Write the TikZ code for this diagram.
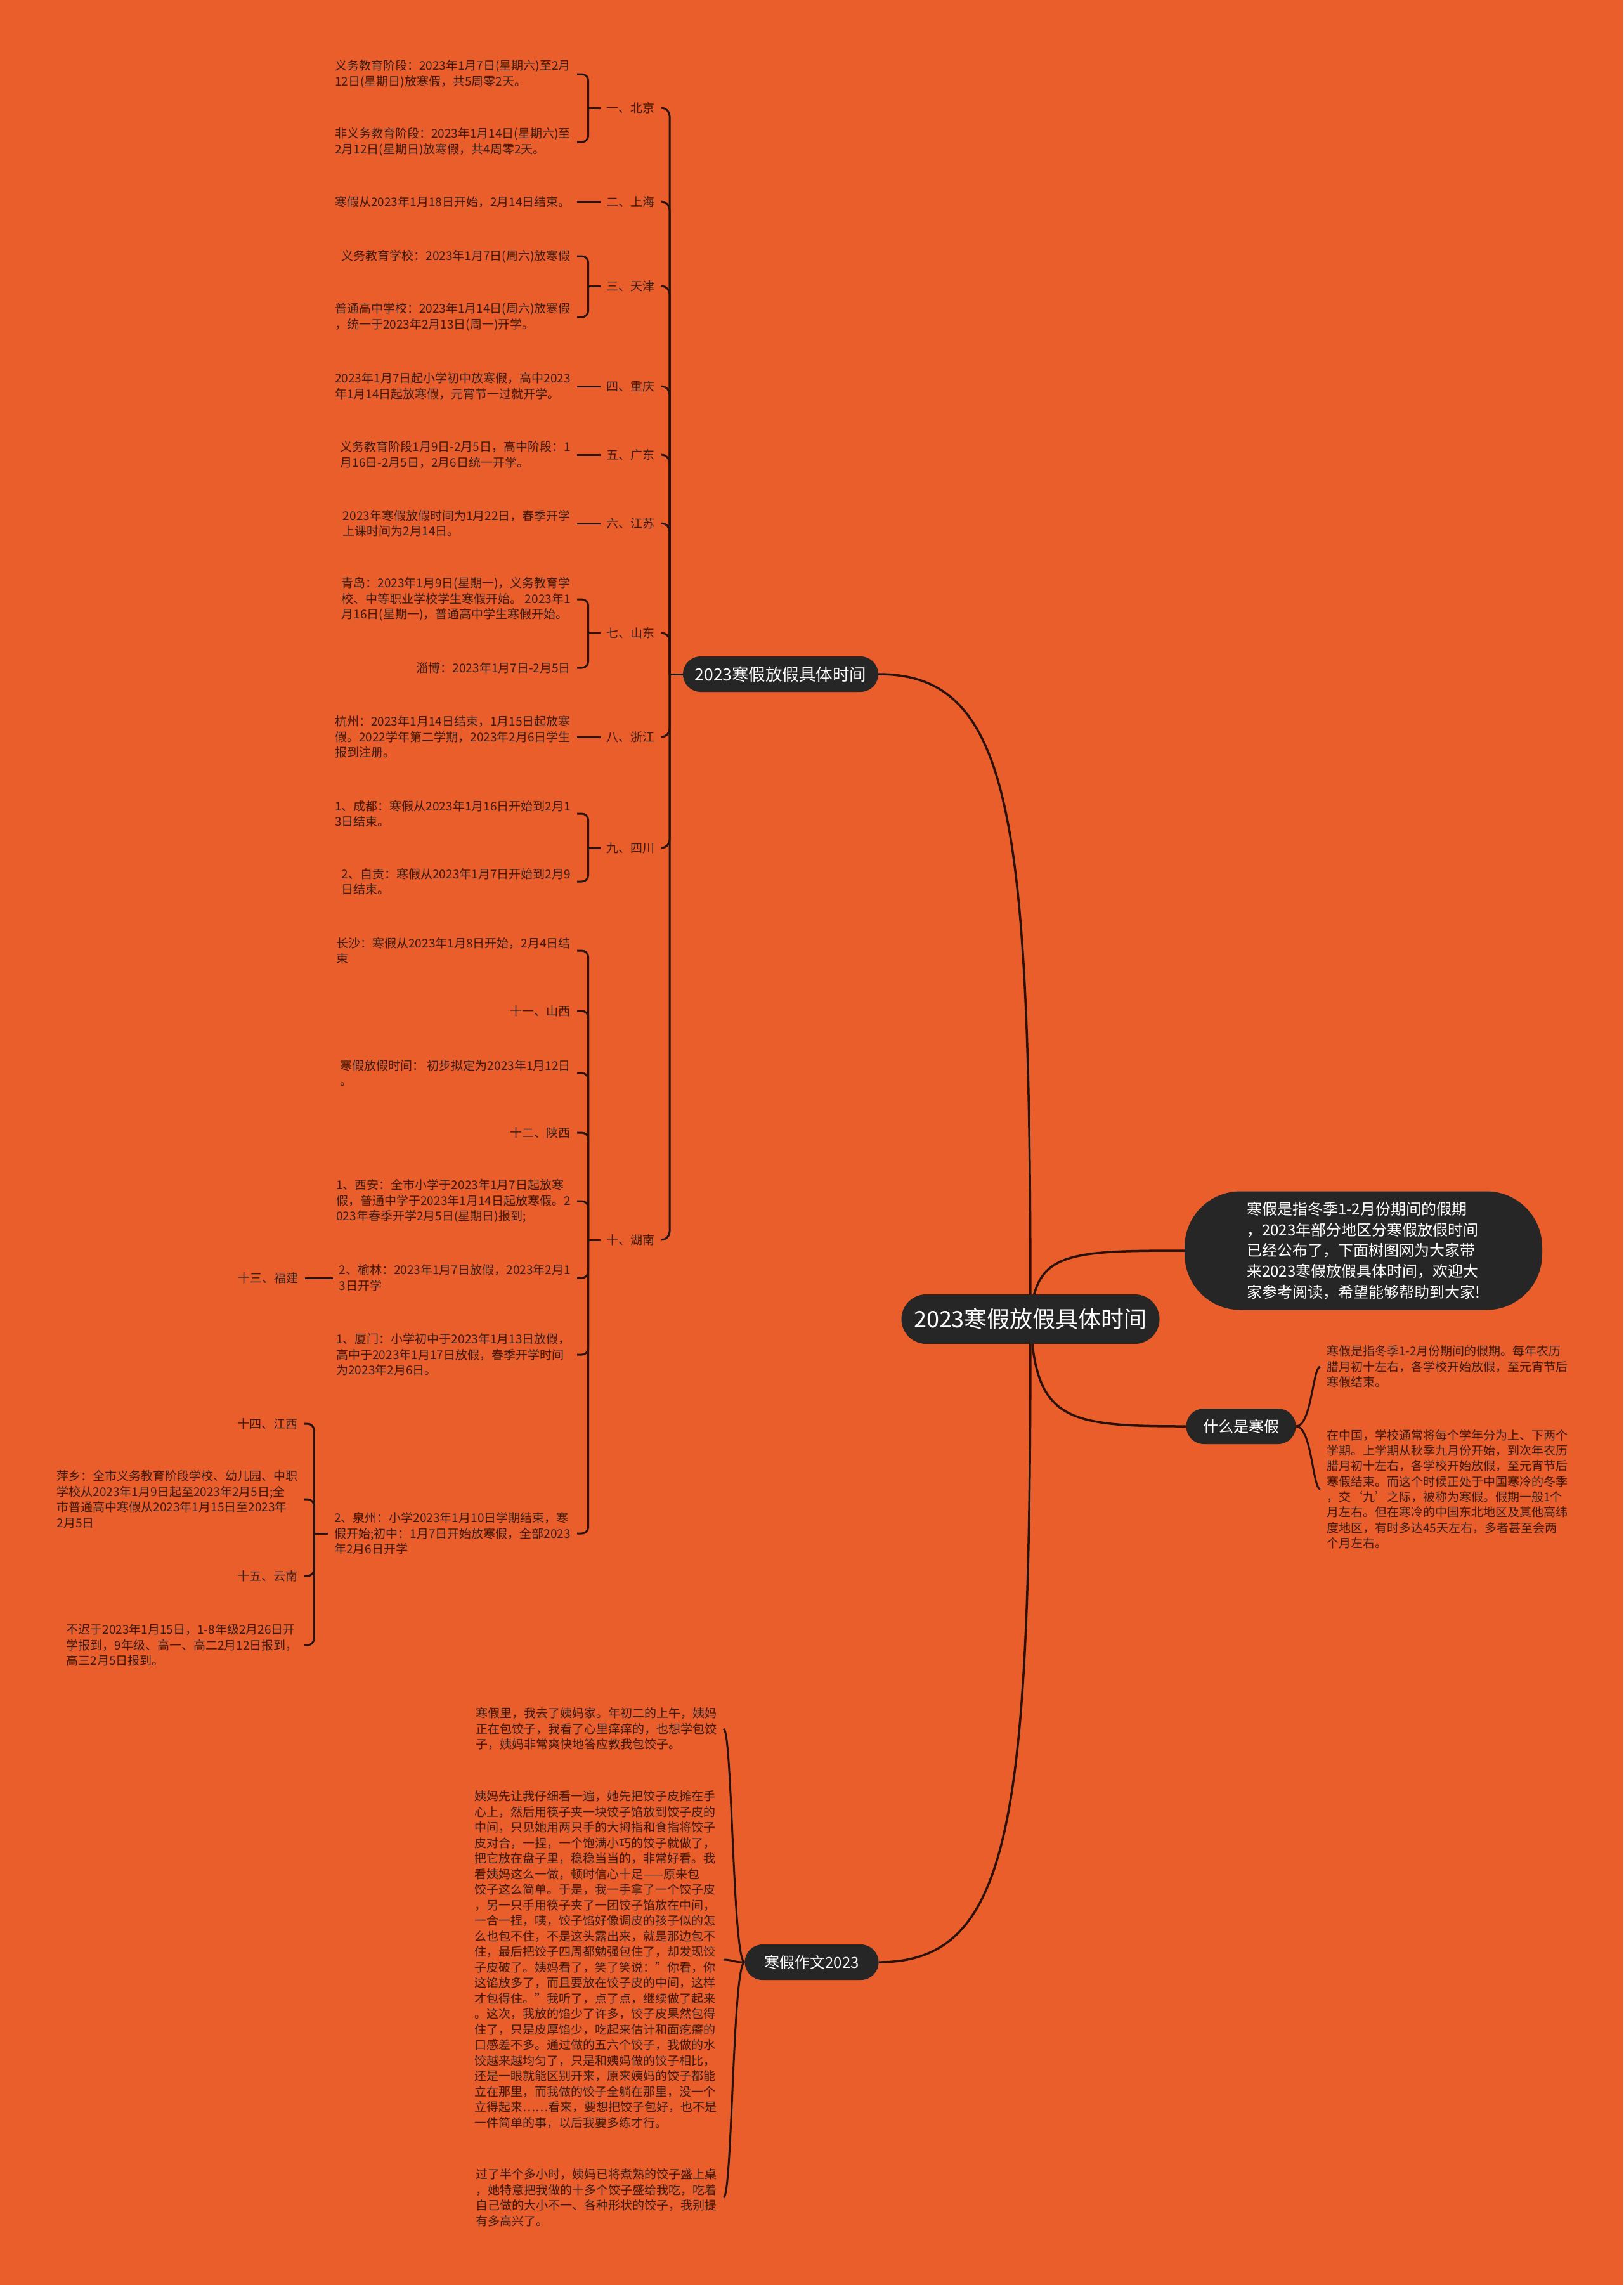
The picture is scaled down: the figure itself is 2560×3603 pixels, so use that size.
\documentclass[tikz,border=0pt]{standalone}
\usepackage{fontspec}
\setmainfont{Noto Sans CJK SC}
\definecolor{bgor}{RGB}{233,94,42}
\definecolor{txt}{RGB}{58,27,12}
\definecolor{ln}{RGB}{42,18,8}
\definecolor{pillc}{RGB}{38,38,38}
\pgfdeclarelayer{bg}
\pgfdeclarelayer{lines}
\pgfsetlayers{bg,lines,main}
\tikzset{
  leafL/.style={anchor=east, align=left, text=txt, font=\fontsize{19}{24.5}\selectfont, inner xsep=10pt, inner ysep=0pt},
  leafR/.style={anchor=west, align=left, text=txt, font=\fontsize{19}{24.3}\selectfont, inner xsep=10pt, inner ysep=0pt},
  prov/.style={anchor=east, text=txt, font=\fontsize{19}{24.5}\selectfont, inner xsep=10pt, inner ysep=0pt},
  pillnode/.style={fill=pillc, text=white, rounded corners=28pt, minimum height=56pt, inner sep=0pt},
  br/.style={draw=ln, line width=3pt},
  trunk/.style={draw=ln, line width=3pt},
  rootc/.style={draw=ln, line width=3.5pt},
}
\begin{document}
\begin{tikzpicture}[x=1pt,y=-1pt]
\begin{pgfonlayer}{bg}
\fill[bgor] (0,0) rectangle (2560,3603);
\end{pgfonlayer}
\useasboundingbox (0,0) rectangle (2560,3603);

% root and first level
\node[fill=pillc, text=white, rounded corners=39pt, minimum width=407pt, minimum height=78pt, inner sep=0pt, font=\fontsize{36}{40}\selectfont] (root) at (1625,2080) {2023寒假放假具体时间};
\node[pillnode, minimum width=308pt, font=\fontsize{26.5}{30}\selectfont] (L) at (1231,1063) {2023寒假放假具体时间};
\node[pillnode, minimum width=211pt, font=\fontsize{24}{28}\selectfont] (E) at (1280,3094) {寒假作文2023};
\node[pillnode, minimum width=173pt, font=\fontsize{24}{28}\selectfont] (W) at (1957,2249) {什么是寒假};
\node[fill=pillc, text=white, rounded corners=88pt, minimum width=564pt, minimum height=187pt, inner sep=0pt, align=left, font=\fontsize{24}{32.7}\selectfont] (D) at (2150,1972) {寒假是指冬季1-2月份期间的假期\\，2023年部分地区分寒假放假时间\\已经公布了，下面树图网为大家带\\来2023寒假放假具体时间，欢迎大\\家参考阅读，希望能够帮助到大家!};

% provinces
\node[prov] (p1) at (1043,170) {一、北京};
\node[prov] (p2) at (1043,318) {二、上海};
\node[prov] (p3) at (1043,451) {三、天津};
\node[prov] (p4) at (1043,609) {四、重庆};
\node[prov] (p5) at (1043,717) {五、广东};
\node[prov] (p6) at (1043,825) {六、江苏};
\node[prov] (p7) at (1043,998) {七、山东};
\node[prov] (p8) at (1043,1162) {八、浙江};
\node[prov] (p9) at (1043,1337) {九、四川};
\node[prov] (p10) at (1043,1955) {十、湖南};

% leaves
\node[leafL] (p1a) at (910,117) {义务教育阶段：2023年1月7日(星期六)至2月\\12日(星期日)放寒假，共5周零2天。};
\node[leafL] (p1b) at (910,224) {非义务教育阶段：2023年1月14日(星期六)至\\2月12日(星期日)放寒假，共4周零2天。};
\node[leafL] (p2a) at (910,318) {寒假从2023年1月18日开始，2月14日结束。};
\node[leafL] (p3a) at (910,404) {义务教育学校：2023年1月7日(周六)放寒假};
\node[leafL] (p3b) at (910,500) {普通高中学校：2023年1月14日(周六)放寒假\\，统一于2023年2月13日(周一)开学。};
\node[leafL] (p4a) at (910,609) {2023年1月7日起小学初中放寒假，高中2023\\年1月14日起放寒假，元宵节一过就开学。};
\node[leafL] (p5a) at (910,717) {义务教育阶段1月9日-2月5日，高中阶段：1\\月16日-2月5日，2月6日统一开学。};
\node[leafL] (p6a) at (910,825) {2023年寒假放假时间为1月22日，春季开学\\上课时间为2月14日。};
\node[leafL] (p7a) at (910,945) {青岛：2023年1月9日(星期一)，义务教育学\\校、中等职业学校学生寒假开始。 2023年1\\月16日(星期一)，普通高中学生寒假开始。};
\node[leafL] (p7b) at (910,1053) {淄博：2023年1月7日-2月5日};
\node[leafL] (p8a) at (910,1162) {杭州：2023年1月14日结束，1月15日起放寒\\假。2022学年第二学期，2023年2月6日学生\\报到注册。};
\node[leafL] (p9a) at (910,1283) {1、成都：寒假从2023年1月16日开始到2月1\\3日结束。};
\node[leafL] (p9b) at (910,1390) {2、自贡：寒假从2023年1月7日开始到2月9\\日结束。};

\node[leafL] (h1) at (910,1499) {长沙：寒假从2023年1月8日开始，2月4日结\\束};
\node[leafL] (h2) at (910,1594) {十一、山西};
\node[leafL] (h3) at (910,1692) {寒假放假时间： 初步拟定为2023年1月12日\\。};
\node[leafL] (h4) at (910,1786) {十二、陕西};
\node[leafL] (h5) at (910,1894) {1、西安：全市小学于2023年1月7日起放寒\\假，普通中学于2023年1月14日起放寒假。2\\023年春季开学2月5日(星期日)报到;};
\node[leafL] (h6) at (910,2015) {2、榆林：2023年1月7日放假，2023年2月1\\3日开学};
\node[leafL] (h7) at (910,2136) {1、厦门：小学初中于2023年1月13日放假，\\高中于2023年1月17日放假，春季开学时间\\为2023年2月6日。};
\node[leafL] (h8) at (910,2418) {2、泉州：小学2023年1月10日学期结束，寒\\假开始;初中：1月7日开始放寒假，全部2023\\年2月6日开学};
\node[leafL] (f) at (481,2015) {十三、福建};

\node[leafL] (q1) at (480,2245) {十四、江西};
\node[leafL] (q2) at (480,2364) {萍乡：全市义务教育阶段学校、幼儿园、中职\\学校从2023年1月9日起至2023年2月5日;全\\市普通高中寒假从2023年1月15日至2023年\\2月5日};
\node[leafL] (q3) at (480,2485) {十五、云南};
\node[leafL] (q4) at (480,2594) {不迟于2023年1月15日，1-8年级2月26日开\\学报到，9年级、高一、高二2月12日报到，\\高三2月5日报到。};

\node[leafR] (w1) at (2082,2155) {寒假是指冬季1-2月份期间的假期。每年农历\\腊月初十左右，各学校开始放假，至元宵节后\\寒假结束。};
\node[leafR] (w2) at (2082,2348) {在中国，学校通常将每个学年分为上、下两个\\学期。上学期从秋季九月份开始，到次年农历\\腊月初十左右，各学校开始放假，至元宵节后\\寒假结束。而这个时候正处于中国寒冷的冬季\\，交‘九’之际，被称为寒假。假期一般1个\\月左右。但在寒冷的中国东北地区及其他高纬\\度地区，有时多达45天左右，多者甚至会两\\个月左右。};

\node[leafL] (e1) at (1141,2726) {寒假里，我去了姨妈家。年初二的上午，姨妈\\正在包饺子，我看了心里痒痒的，也想学包饺\\子，姨妈非常爽快地答应教我包饺子。};
\node[leafL] (e2) at (1141,3090) {姨妈先让我仔细看一遍，她先把饺子皮摊在手\\心上，然后用筷子夹一块饺子馅放到饺子皮的\\中间，只见她用两只手的大拇指和食指将饺子\\皮对合，一捏，一个饱满小巧的饺子就做了，\\把它放在盘子里，稳稳当当的，非常好看。我\\看姨妈这么一做，顿时信心十足——原来包\\饺子这么简单。于是，我一手拿了一个饺子皮\\，另一只手用筷子夹了一团饺子馅放在中间，\\一合一捏，咦，饺子馅好像调皮的孩子似的怎\\么也包不住，不是这头露出来，就是那边包不\\住，最后把饺子四周都勉强包住了，却发现饺\\子皮破了。姨妈看了，笑了笑说："你看，你\\这馅放多了，而且要放在饺子皮的中间，这样\\才包得住。"我听了，点了点，继续做了起来\\。这次，我放的馅少了许多，饺子皮果然包得\\住了，只是皮厚馅少，吃起来估计和面疙瘩的\\口感差不多。通过做的五六个饺子，我做的水\\饺越来越均匀了，只是和姨妈做的饺子相比，\\还是一眼就能区别开来，原来姨妈的饺子都能\\立在那里，而我做的饺子全躺在那里，没一个\\立得起来……看来，要想把饺子包好，也不是\\一件简单的事，以后我要多练才行。};
\node[leafL] (e3) at (1141,3465) {过了半个多小时，姨妈已将煮熟的饺子盛上桌\\，她特意把我做的十多个饺子盛给我吃，吃着\\自己做的大小不一、各种形状的饺子，我别提\\有多高兴了。};

\coordinate (qb) at (495,2418);
\coordinate (tk) at (1056,1063);

\begin{pgfonlayer}{lines}
% root curves
\draw[rootc] (root.center) .. controls (1625,1300) and (1600,1063) .. (L.east);
\draw[rootc] (root.center) .. controls (1625,2860) and (1600,3094) .. (E.east);
\draw[rootc] (root.center) .. controls (1632,1975) and (1680,1972) .. (D.west);
\draw[rootc] (root.center) .. controls (1632,2240) and (1680,2249) .. (W.west);

% trunk from L to provinces
\draw[trunk] (L.west) -- (tk);
\foreach \p in {p1,p2,p3,p4,p5,p6,p7,p8,p9,p10}
  \draw[trunk, rounded corners=13pt] (tk) |- (\p.east);

% province brackets
\foreach \p/\a/\b in {p1/p1a/p1b, p3/p3a/p3b, p7/p7a/p7b, p9/p9a/p9b}{
  \draw[br] (\p.west) -- ([xshift=-19pt]\p.west);
  \draw[br, rounded corners=10pt] ([xshift=-19pt]\p.west) |- (\a.east);
  \draw[br, rounded corners=10pt] ([xshift=-19pt]\p.west) |- (\b.east);
}
\draw[br] (p2.west) -- (p2a.east);
\draw[br] (p4.west) -- (p4a.east);
\draw[br] (p5.west) -- (p5a.east);
\draw[br] (p6.west) -- (p6a.east);
\draw[br] (p8.west) -- (p8a.east);

% Hunan bracket
\draw[br] (p10.west) -- ([xshift=-19pt]p10.west);
\foreach \h in {h1,h2,h3,h4,h5,h6,h7,h8}
  \draw[br, rounded corners=10pt] ([xshift=-19pt]p10.west) |- (\h.east);

% Fujian
\draw[br] (f.east) -- (h6.west);

% Quanzhou bracket
\draw[br] (h8.west) -- (qb);
\foreach \q in {q1,q2,q3,q4}
  \draw[br, rounded corners=10pt] (qb) |- (\q.east);

% essay
\foreach \e in {e1,e2,e3}
  \draw[trunk] (E.west) .. controls +(-19,0) and +(14,0) .. (\e.east);

% what is winter vacation
\foreach \w in {w1,w2}
  \draw[trunk] (W.east) .. controls +(25,0) and +(-12,0) .. (\w.west);
\end{pgfonlayer}
\end{tikzpicture}
\end{document}
